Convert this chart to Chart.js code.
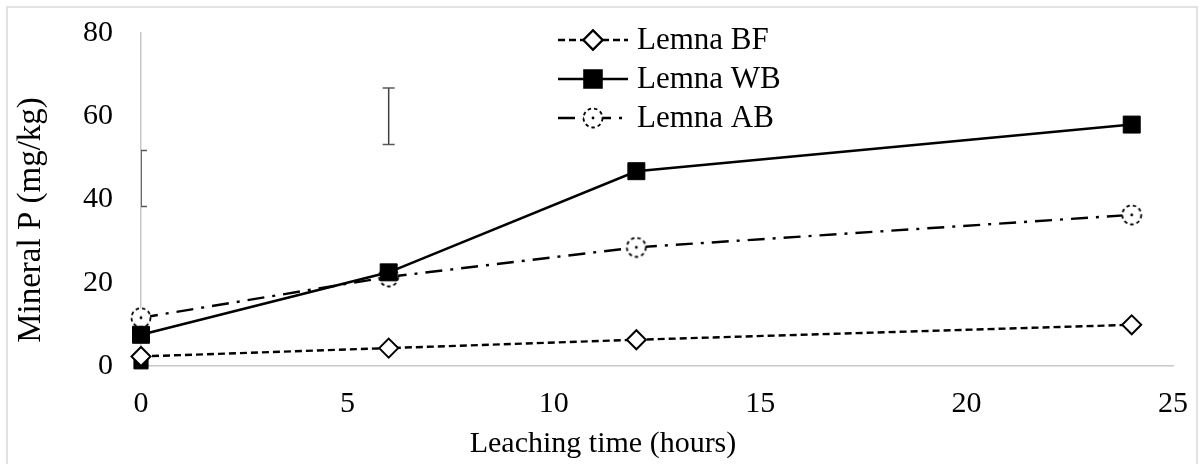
<!DOCTYPE html>
<html>
<head>
<meta charset="utf-8">
<script src="https://cdn.jsdelivr.net/npm/chart.js@4/dist/chart.umd.min.js"></script>
<style>
  html, body { margin: 0; padding: 0; background: #fff; }
  #wrap { width: 1203px; height: 464px; position: relative; }
</style>
</head>
<body>
<div id="wrap"><canvas id="chart"></canvas></div>
<script>
// leaching time (hours) and mineral P (mg/kg)
var hours = [0, 6, 12, 24];
var lemnaBF = [2.3, 4.3, 6.3, 9.9];
var lemnaWB = [7.5, 22.5, 46.8, 58.0];
var lemnaAB = [11.6, 21.4, 28.5, 36.3];

// lone marker sitting under the BF point at t = 0
var extraX = [0];
var extraY = [1.0];

// error bars
var errX = [0, 6];
var errLow = [38.3, 53.2];
var errHigh = [51.8, 66.8];

var xTicks = [0, 5, 10, 15, 20, 25];
var yTicks = [0, 20, 40, 60, 80];

var xTitle = 'Leaching time (hours)';
var yTitle = 'Mineral P (mg/kg)';

var FONT = '"Liberation Serif", "Times New Roman", serif';

function pairs(xs, ys) {
    return xs.map(function (x, i) { return {x: x, y: ys[i]}; });
}

// dashed open circle with a dot in the middle
function dottedCircle() {
    var c = document.createElement('canvas');
    c.width = 24;
    c.height = 24;
    var ctx = c.getContext('2d');
    ctx.beginPath();
    ctx.arc(12, 12, 9.5, 0, Math.PI * 2);
    ctx.fillStyle = '#fff';
    ctx.fill();
    ctx.setLineDash([3.5, 3]);
    ctx.lineWidth = 1.8;
    ctx.strokeStyle = '#000';
    ctx.stroke();
    ctx.setLineDash([]);
    ctx.beginPath();
    ctx.arc(12, 12, 1.4, 0, Math.PI * 2);
    ctx.fillStyle = '#000';
    ctx.fill();
    return c;
}
var circleImg = dottedCircle();

var frame = {
    id: 'frame',
    beforeDraw: function (chart) {
        var ctx = chart.ctx;
        ctx.save();
        ctx.strokeStyle = '#d9d9d9';
        ctx.lineWidth = 1.5;
        ctx.beginPath();
        ctx.moveTo(7, 470);
        ctx.lineTo(7, 7);
        ctx.lineTo(1197, 7);
        ctx.lineTo(1197, 470);
        ctx.stroke();
        ctx.restore();
    }
};

// axis titles sit a little off-centre, so they are placed by hand
var axisTitles = {
    id: 'axisTitles',
    afterDraw: function (chart) {
        var ctx = chart.ctx;
        ctx.save();
        ctx.fillStyle = '#000';
        ctx.textAlign = 'center';
        ctx.textBaseline = 'middle';
        ctx.font = '30px ' + FONT;
        ctx.fillText(xTitle, 603, 444);
        ctx.translate(31, 220);
        ctx.rotate(-Math.PI / 2);
        ctx.font = '33px ' + FONT;
        ctx.fillText(yTitle, 0, 0);
        ctx.restore();
    }
};

var errorBars = {
    id: 'errorBars',
    afterDatasetsDraw: function (chart) {
        var ctx = chart.ctx;
        var xs = chart.scales.x, ys = chart.scales.y;
        var a = chart.chartArea;
        ctx.save();
        ctx.beginPath();
        ctx.rect(a.left, a.top - 10, a.right - a.left, a.bottom - a.top + 10);
        ctx.clip();
        for (var i = 0; i < errX.length; i++) {
            var px = xs.getPixelForValue(errX[i]);
            var y1 = ys.getPixelForValue(errHigh[i]);
            var y2 = ys.getPixelForValue(errLow[i]);
            ctx.strokeStyle = '#404040';
            ctx.lineWidth = 1.5;
            ctx.beginPath();
            ctx.moveTo(px, y1);
            ctx.lineTo(px, y2);
            ctx.stroke();
            ctx.strokeStyle = '#595959';
            ctx.beginPath();
            ctx.moveTo(px - 6, y1);
            ctx.lineTo(px + 6, y1);
            ctx.moveTo(px - 6, y2);
            ctx.lineTo(px + 6, y2);
            ctx.stroke();
        }
        ctx.restore();
    }
};

// stacked legend drawn inside the plot, one row per series
var stackedLegend = {
    id: 'stackedLegend',
    afterDraw: function (chart) {
        var ctx = chart.ctx;
        var rows = [40, 79, 118];
        ctx.save();
        for (var i = 0; i < 3; i++) {
            var ds = chart.data.datasets[i];
            var y = rows[i];
            ctx.strokeStyle = '#000';
            ctx.lineWidth = ds.borderWidth;
            ctx.setLineDash(ds.borderDash || []);
            ctx.beginPath();
            ctx.moveTo(558, y);
            ctx.lineTo(628, y);
            ctx.stroke();
            ctx.setLineDash([]);
            if (ds.pointStyle === circleImg) {
                ctx.drawImage(circleImg, 593 - 12, y - 12);
            } else {
                Chart.helpers.drawPoint(ctx, {
                    pointStyle: ds.pointStyle,
                    radius: ds.pointRadius,
                    borderWidth: ds.pointBorderWidth,
                    rotation: 0
                }, 593, y);
                ctx.fillStyle = ds.pointBackgroundColor;
                ctx.strokeStyle = '#000';
                ctx.lineWidth = ds.pointBorderWidth;
                ctx.fill();
                ctx.stroke();
            }
            ctx.fillStyle = '#000';
            ctx.font = '31px ' + FONT;
            ctx.textBaseline = 'middle';
            ctx.textAlign = 'left';
            ctx.fillText(ds.label, 637, y + 1);
        }
        ctx.restore();
    }
};

new Chart(document.getElementById('chart'), {
    type: 'line',
    data: {
        datasets: [{
            label: 'Lemna BF',
            data: pairs(hours, lemnaBF),
            clip: false,
            borderColor: '#000',
            borderWidth: 2.4,
            borderDash: [7, 4],
            pointStyle: 'rectRot',
            pointRadius: 9.5,
            pointBackgroundColor: '#fff',
            pointBorderColor: '#000',
            pointBorderWidth: 2
        }, {
            label: 'Lemna WB',
            data: pairs(hours, lemnaWB),
            clip: false,
            borderColor: '#000',
            borderWidth: 2.6,
            pointStyle: 'rect',
            pointRadius: 12,
            pointBackgroundColor: '#000',
            pointBorderColor: '#000',
            pointBorderWidth: 1
        }, {
            label: 'Lemna AB',
            data: pairs(hours, lemnaAB),
            clip: false,
            borderColor: '#000',
            borderWidth: 2.4,
            borderDash: [17, 8, 3, 8],
            pointStyle: circleImg,
            pointRadius: 10,
            pointBackgroundColor: '#fff',
            pointBorderColor: '#000',
            pointBorderWidth: 1.5
        }, {
            label: '',
            data: pairs(extraX, extraY),
            clip: false,
            showLine: false,
            pointStyle: 'rect',
            pointRadius: 10,
            pointBackgroundColor: '#000',
            pointBorderColor: '#000',
            pointBorderWidth: 1
        }]
    },
    options: {
        responsive: true,
        maintainAspectRatio: false,
        animation: false,
        layout: { padding: { top: 33, right: 30, left: 0, bottom: 0 } },
        plugins: {
            legend: { display: false },
            tooltip: { enabled: false }
        },
        scales: {
            x: {
                type: 'linear',
                min: 0,
                max: 25,
                afterBuildTicks: function (s) {
                    s.ticks = xTicks.map(function (v) { return {value: v}; });
                },
                afterFit: function (s) {
                    s.height = 98;
                    s.paddingLeft = 0;
                    s.paddingRight = 0;
                },
                grid: { display: false, drawTicks: false },
                border: { display: true, color: '#c8c8c8', width: 1.5 },
                ticks: {
                    color: '#000',
                    padding: 20,
                    font: { family: FONT, size: 30 }
                }
            },
            y: {
                min: 0,
                max: 80,
                afterBuildTicks: function (s) {
                    s.ticks = yTicks.map(function (v) { return {value: v}; });
                },
                afterFit: function (s) {
                    s.width = 141;
                    s.paddingTop = 0;
                    s.paddingBottom = 0;
                },
                grid: { display: false, drawTicks: false },
                border: { display: true, color: '#c8c8c8', width: 1.5 },
                ticks: {
                    color: '#000',
                    padding: 28,
                    font: { family: FONT, size: 30 }
                }
            }
        }
    },
    plugins: [frame, errorBars, stackedLegend, axisTitles]
});
</script>
</body>
</html>
